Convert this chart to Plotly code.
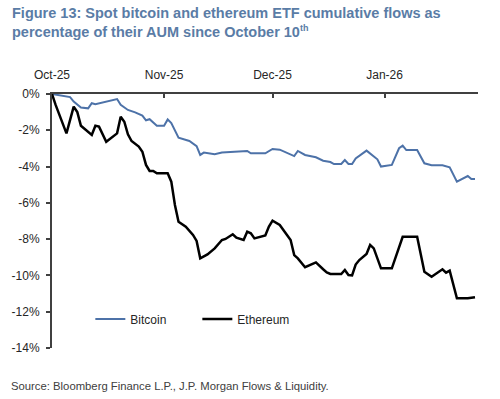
import plotly.graph_objects as go

# ---- data ----
btc_dates = ["2025-10-10", "2025-10-13", "2025-10-15", "2025-10-16", "2025-10-18", "2025-10-20",
             "2025-10-21", "2025-10-22", "2025-10-25", "2025-10-28", "2025-10-29", "2025-10-31",
             "2025-11-02", "2025-11-04", "2025-11-05", "2025-11-06", "2025-11-08", "2025-11-10",
             "2025-11-11", "2025-11-12", "2025-11-14", "2025-11-17", "2025-11-19", "2025-11-20",
             "2025-11-21", "2025-11-24", "2025-11-26", "2025-12-03", "2025-12-04", "2025-12-08",
             "2025-12-10", "2025-12-12", "2025-12-16", "2025-12-17", "2025-12-19", "2025-12-22",
             "2025-12-24", "2025-12-26", "2025-12-27", "2025-12-29", "2025-12-30", "2025-12-31",
             "2026-01-01", "2026-01-02", "2026-01-05", "2026-01-08", "2026-01-09", "2026-01-12",
             "2026-01-14", "2026-01-15", "2026-01-16", "2026-01-19", "2026-01-21", "2026-01-23",
             "2026-01-26", "2026-01-28", "2026-01-30", "2026-02-02", "2026-02-03", "2026-02-04"]
btc_values = [0.0, -0.1, -0.17, -0.42, -0.75, -0.79,
              -0.51, -0.56, -0.44, -0.28, -0.6, -0.88,
              -1.01, -1.19, -1.45, -1.39, -1.75, -1.75,
              -1.4, -1.6, -2.41, -2.59, -2.87, -3.36,
              -3.23, -3.32, -3.23, -3.14, -3.27, -3.27,
              -3.03, -3.07, -3.42, -3.14, -3.36, -3.49,
              -3.68, -3.75, -3.86, -3.86, -3.64, -3.86,
              -3.86, -3.55, -3.12, -3.6, -4.0, -3.91,
              -2.99, -2.85, -3.09, -3.09, -3.82, -3.93,
              -3.93, -4.04, -4.83, -4.52, -4.69, -4.69]

eth_dates = ["2025-10-10", "2025-10-11", "2025-10-14", "2025-10-16", "2025-10-17", "2025-10-18",
             "2025-10-21", "2025-10-22", "2025-10-23", "2025-10-25", "2025-10-28", "2025-10-29",
             "2025-10-30", "2025-10-31", "2025-11-01", "2025-11-03", "2025-11-04", "2025-11-05",
             "2025-11-06", "2025-11-07", "2025-11-08", "2025-11-11", "2025-11-12", "2025-11-13",
             "2025-11-14", "2025-11-16", "2025-11-18", "2025-11-19", "2025-11-20", "2025-11-22",
             "2025-11-24", "2025-11-26", "2025-11-27", "2025-11-29", "2025-11-30", "2025-12-02",
             "2025-12-03", "2025-12-04", "2025-12-05", "2025-12-07", "2025-12-08", "2025-12-09",
             "2025-12-10", "2025-12-12", "2025-12-13", "2025-12-15", "2025-12-16", "2025-12-17",
             "2025-12-19", "2025-12-22", "2025-12-24", "2025-12-25", "2025-12-26", "2025-12-29",
             "2025-12-30", "2025-12-31", "2026-01-01", "2026-01-02", "2026-01-03", "2026-01-05",
             "2026-01-06", "2026-01-07", "2026-01-09", "2026-01-12", "2026-01-15", "2026-01-19",
             "2026-01-21", "2026-01-23", "2026-01-26", "2026-01-27", "2026-01-28", "2026-01-30",
             "2026-02-02", "2026-02-04"]
eth_values = [0.0, -0.6, -2.17, -0.7, -1.0, -1.75,
              -2.26, -1.75, -1.8, -2.63, -2.17, -1.25,
              -1.53, -2.22, -2.59, -2.9, -3.18, -3.91,
              -4.24, -4.24, -4.37, -4.37, -4.83, -6.12,
              -7.04, -7.31, -7.77, -8.1, -9.06, -8.84,
              -8.51, -8.05, -7.99, -7.73, -7.92, -8.05,
              -7.59, -7.68, -7.96, -7.87, -7.8, -7.31,
              -6.98, -7.22, -7.5, -8.05, -8.88, -9.06,
              -9.55, -9.28, -9.66, -9.83, -9.92, -9.92,
              -9.7, -9.98, -10.0, -9.4, -9.15, -8.82,
              -8.32, -8.51, -9.61, -9.61, -7.87, -7.87,
              -9.8, -10.07, -9.66, -9.85, -9.74, -11.26,
              -11.26, -11.2]

x_tick_vals = ["2025-10-10", "2025-11-10", "2025-12-10", "2026-01-10"]
x_tick_text = ["Oct-25", "Nov-25", "Dec-25", "Jan-26"]
y_tick_vals = [0, -2, -4, -6, -8, -10, -12, -14]
y_tick_text = ["0%", "-2%", "-4%", "-6%", "-8%", "-10%", "-12%", "-14%"]

title_text = ("Figure 13: Spot bitcoin and ethereum ETF cumulative flows as<br>"
              "percentage of their AUM since October 10"
              "<sup><span style='font-size:9px'>th</span></sup>")
source_text = "Source: Bloomberg Finance L.P., J.P. Morgan Flows & Liquidity."

FONT = "Liberation Sans, Arial, sans-serif"

PW, PH = 426, 254  # plot area size in px

fig = go.Figure()
fig.add_trace(go.Scatter(x=btc_dates, y=btc_values, mode="lines", name="Bitcoin",
                         line=dict(color="#4d72a8", width=2)))
fig.add_trace(go.Scatter(x=eth_dates, y=eth_values, mode="lines", name="Ethereum",
                         line=dict(color="#000000", width=2.5)))

fig.update_layout(
    width=500, height=399,
    margin=dict(l=52, r=22, t=94, b=51),
    paper_bgcolor="white", plot_bgcolor="white",
    font=dict(family=FONT, size=12, color="#262626"),
    showlegend=True,
    legend=dict(orientation="h", x=0.09, y=0.114, xanchor="left", yanchor="middle",
                font=dict(size=12, color="#262626"), bgcolor="rgba(0,0,0,0)",
                entrywidth=62, entrywidthmode="pixels", itemwidth=30),
    xaxis=dict(type="date", side="top", range=["2025-10-10", "2026-02-04 20:00"],
               tickvals=x_tick_vals, ticktext=x_tick_text,
               ticks="inside", ticklen=4, tickwidth=1.5, tickcolor="#404040",
               showline=True, linecolor="#404040", linewidth=2,
               showgrid=False, zeroline=False, ticklabelstandoff=8,
               tickfont=dict(size=12, color="#262626")),
    yaxis=dict(range=[-14, 0], tickvals=y_tick_vals, ticktext=y_tick_text,
               ticks="outside", ticklen=4, tickwidth=1.5, tickcolor="#404040",
               showline=True, linecolor="#404040", linewidth=2,
               showgrid=False, zeroline=False, ticklabelstandoff=4,
               tickfont=dict(size=12, color="#262626")),
    annotations=[
        dict(text=title_text, xref="paper", yref="paper", x=-42 / PW, y=1 + 91 / PH,
             xanchor="left", yanchor="top", align="left", showarrow=False,
             font=dict(family=FONT, size=14.5, color="#5a7ca6", weight="bold")),
        dict(text=source_text, xref="paper", yref="paper", x=-43 / PW, y=-38 / PH,
             xanchor="left", yanchor="middle", align="left", showarrow=False,
             font=dict(family=FONT, size=11.3, color="#404040")),
    ],
)

# remove the browser's default 8px body margin so the figure sits at the window's corner
fig.write_html("out.html", config={"displayModeBar": False},
               post_script="document.body.style.margin='0';")
